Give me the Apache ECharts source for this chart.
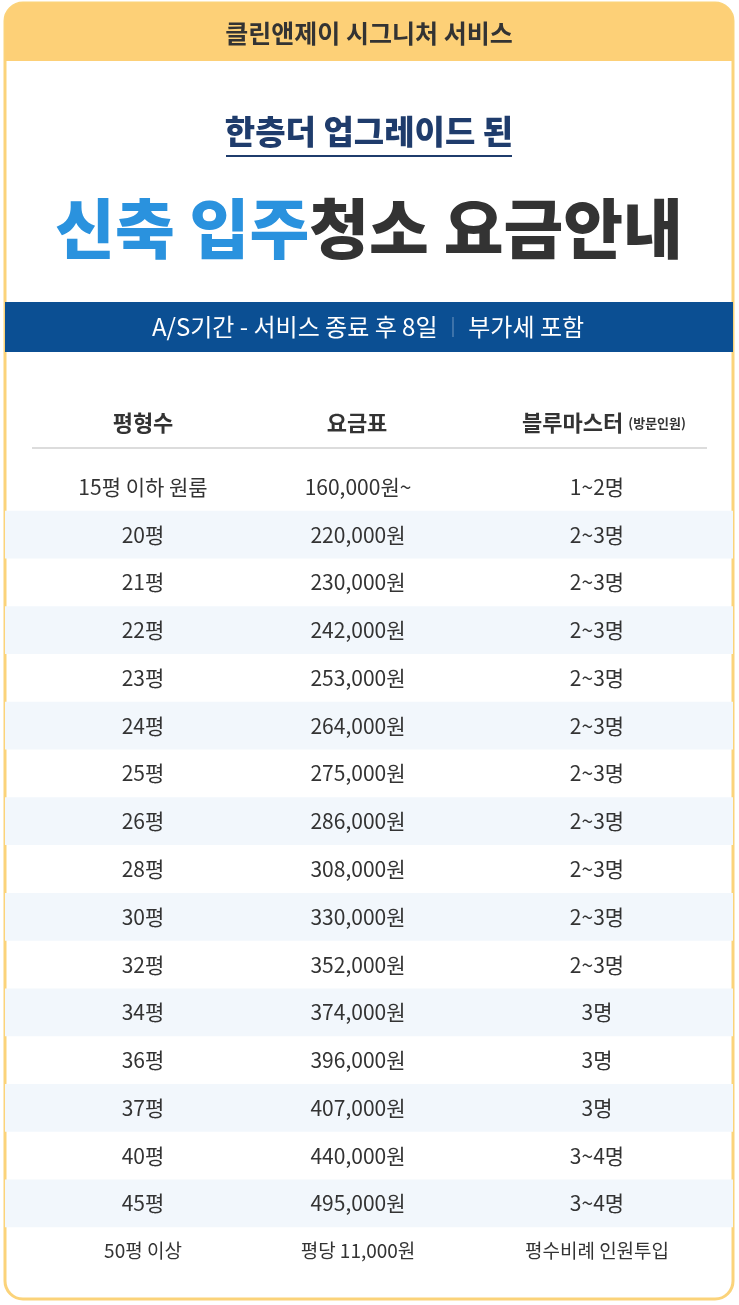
<!DOCTYPE html>
<html>
<head>
<meta charset="utf-8" />
<script src="https://cdn.jsdelivr.net/npm/echarts@6/dist/echarts.min.js"></script>
<style>body{margin:0;background:#fff}</style>
</head>
<body>
<div id="main" style="width:739px;height:1305px;"></div>
<script>
var sizes = ['15평 이하 원룸','20평','21평','22평','23평','24평','25평','26평','28평','30평','32평','34평','36평','37평','40평','45평','50평 이상'];
var prices = ['160,000원~','220,000원','230,000원','242,000원','253,000원','264,000원','275,000원','286,000원','308,000원','330,000원','352,000원','374,000원','396,000원','407,000원','440,000원','495,000원','평당 11,000원'];
var staff = ['1~2명','2~3명','2~3명','2~3명','2~3명','2~3명','2~3명','2~3명','2~3명','2~3명','2~3명','3명','3명','3명','3~4명','3~4명','평수비례 인원투입'];
var headers = ['평형수','요금표','블루마스터'];

var FONT = '"Noto Sans CJK KR", "Noto Sans", sans-serif';
var colX = [138, 353, 592];
var myChart = echarts.init(document.getElementById('main'));

var option = {
    animation: false,
    grid: { left: 5, right: 6, top: 463, bottom: 30 },
    xAxis: { type: 'value', min: 0, max: 728, show: false },
    yAxis: { type: 'category', inverse: true, show: false, data: sizes },
    series: [{
        type: 'custom',
        data: sizes.map(function (s, i) { return [i]; }),
        renderItem: function (params, api) {
            var i = api.value(0);
            var p = api.coord([0, i]);
            var h = api.size([0, 1])[1];
            var w = params.coordSys.width;
            var kids = [];
            if (i % 2 === 1) {
                kids.push({ type: 'rect', shape: { x: p[0], y: p[1] - h / 2, width: w, height: h }, style: { fill: '#f2f7fc' } });
            }
            var vals = [sizes[i], prices[i], staff[i]];
            for (var c = 0; c < 3; c++) {
                var small = (i === sizes.length - 1);
                kids.push({ type: 'text', style: { x: p[0] + colX[c], y: p[1], text: vals[c], align: 'center', verticalAlign: 'middle', fill: '#333', font: (small ? '19px ' : '21px ') + FONT } });
            }
            return { type: 'group', children: kids };
        }
    }],
    graphic: [
        { type: 'rect', shape: { x: 5, y: 3, width: 728, height: 1296, r: 18 }, style: { fill: '#fff', stroke: '#fbd37a', lineWidth: 3 }, z: -10 },
        { type: 'rect', shape: { x: 5, y: 3, width: 728, height: 58, r: [18, 18, 0, 0] }, style: { fill: '#fdd077' }, z: -9 },
        { type: 'text', x: 369, y: 33, style: { text: '클린앤제이 시그니처 서비스', align: 'center', verticalAlign: 'middle', fill: '#333', font: 'bold 25px ' + FONT } },
        { type: 'text', x: 369, y: 131, style: { text: '한층더 업그레이드 된', align: 'center', verticalAlign: 'middle', fill: '#1f3c6c', font: '900 33px ' + FONT } },
        { type: 'rect', shape: { x: 226, y: 155, width: 286, height: 2 }, style: { fill: '#1f3c6c' } },
        { type: 'text', x: 369, y: 228, style: { text: '{b|신축 입주}{d|청소 요금안내}', align: 'center', verticalAlign: 'middle',
            rich: { b: { fill: '#2a92de', font: '900 65px ' + FONT }, d: { fill: '#333', font: '900 65px ' + FONT } } } },
        { type: 'rect', shape: { x: 5, y: 302, width: 728, height: 50 }, style: { fill: '#0b4f93' } },
        { type: 'text', x: 368, y: 327, style: { text: 'A/S기간 - 서비스 종료 후 8일 {s|│} 부가세 포함', align: 'center', verticalAlign: 'middle', fill: '#fff', font: '24px ' + FONT,
            rich: { s: { fill: '#7fa3c9', font: '20px ' + FONT } } } },
        { type: 'text', x: 143, y: 423, style: { text: headers[0], align: 'center', verticalAlign: 'middle', fill: '#333', font: 'bold 22px ' + FONT } },
        { type: 'text', x: 357, y: 423, style: { text: headers[1], align: 'center', verticalAlign: 'middle', fill: '#333', font: 'bold 22px ' + FONT } },
        { type: 'text', x: 604, y: 423, style: { text: headers[2] + ' {s|(방문인원)}', align: 'center', verticalAlign: 'middle', fill: '#333', font: 'bold 22px ' + FONT,
            rich: { s: { fill: '#333', font: 'bold 13px ' + FONT } } } },
        { type: 'rect', shape: { x: 32, y: 447, width: 675, height: 2 }, style: { fill: '#dcdcdc' } }
    ]
};
myChart.setOption(option);
</script>
</body>
</html>
